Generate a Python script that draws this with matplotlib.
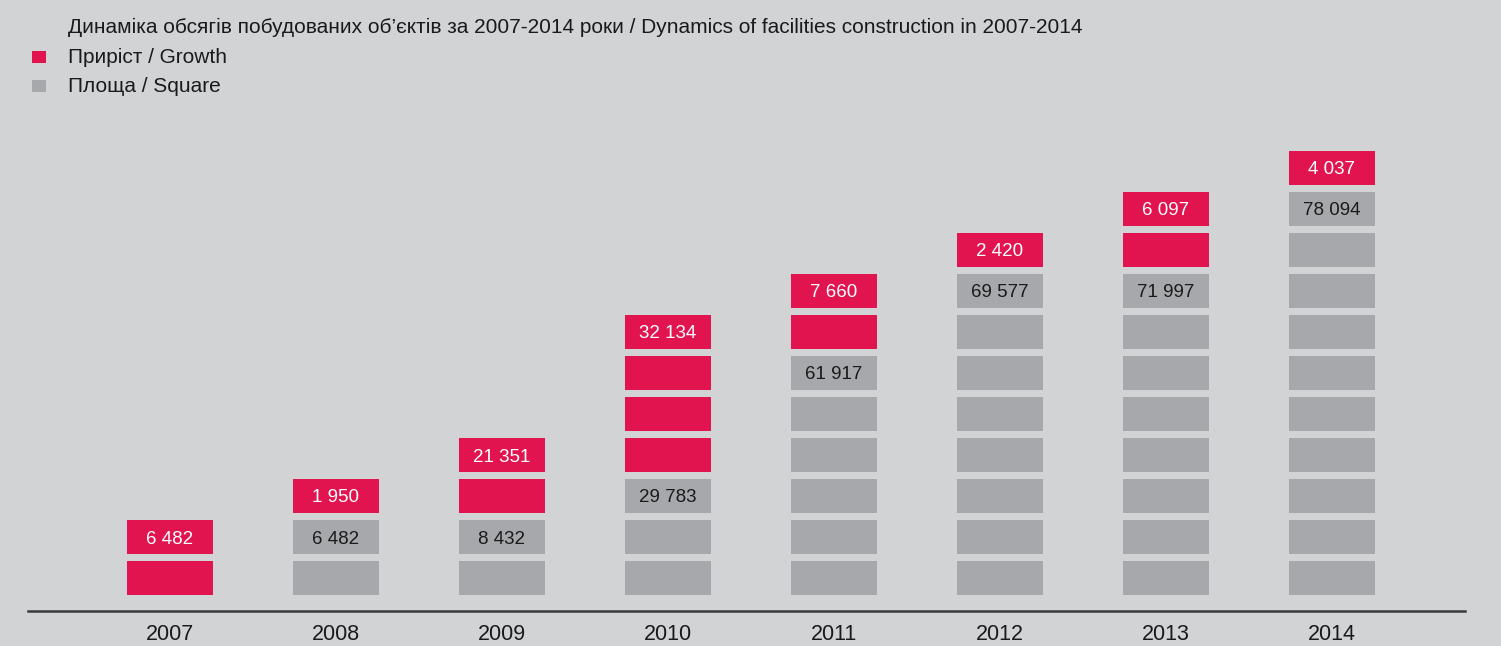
import numpy as np
import matplotlib.pyplot as plt
from matplotlib import font_manager

years = ['2007', '2008', '2009', '2010', '2011', '2012', '2013', '2014']
square_blocks = [0, 2, 2, 3, 6, 8, 8, 10]   # кількість сірих блоків
growth_blocks = [2, 1, 2, 4, 2, 1, 2, 1]    # кількість рожевих блоків
square_labels = ['', '6 482', '8 432', '29 783', '61 917', '69 577', '71 997', '78 094']
growth_labels = ['6 482', '1 950', '21 351', '32 134', '7 660', '2 420', '6 097', '4 037']

title = 'Динаміка обсягів побудованих об’єктів за 2007-2014 роки / Dynamics of facilities construction in 2007-2014'
legend_items = ['Приріст / Growth', 'Площа / Square']

PINK = '#e1144f'
GREY = '#a7a8ab'
BG = '#d2d3d5'

names = {f.name for f in font_manager.fontManager.ttflist}
fam = 'Liberation Sans Narrow' if 'Liberation Sans Narrow' in names else 'Liberation Sans'
plt.rcParams['font.family'] = [fam, 'DejaVu Sans']

W, H = 1501, 646
fig = plt.figure(figsize=(W / 100, H / 100), dpi=100, facecolor=BG)

# оси в пикселях: низ на 611, верх на 100
ax = fig.add_axes([28 / W, (H - 611) / H, (1465 - 28) / W, (611 - 100) / H])
ax.set_facecolor(BG)
x0 = (28 - 170) / 166
x1 = (1465 - 170) / 166
ax.set_xlim(x0, x1)
ax.set_ylim(0, (611 - 100) / 41)

bw = 86 / 166
bh = 34 / 41
off = 16 / 41

for i in range(len(years)):
    k = 0
    for j in range(square_blocks[i]):
        ax.bar(i, bh, bw, bottom=off + k, color=GREY, linewidth=0)
        k += 1
    if square_blocks[i]:
        ax.text(i, off + k - 1 + bh / 2, square_labels[i], ha='center', va='center_baseline',
                fontsize=13.5, color='#1a1a1a')
    for j in range(growth_blocks[i]):
        ax.bar(i, bh, bw, bottom=off + k, color=PINK, linewidth=0)
        k += 1
    ax.text(i, off + k - 1 + bh / 2, growth_labels[i], ha='center', va='center_baseline',
            fontsize=13.5, color='white')

for s in ['top', 'right', 'left']:
    ax.spines[s].set_visible(False)
ax.spines['bottom'].set_color('#3a3a3a')
ax.spines['bottom'].set_linewidth(1.8)
ax.set_yticks([])
ax.set_xticks(range(len(years)))
ax.set_xticklabels(years, fontsize=15.5, color='#1a1a1a')
ax.tick_params(axis='x', length=0, pad=9)

fig.text(68 / W, 1 - 27 / H, title, fontsize=15, va='center', ha='left', color='#1a1a1a')
for n, (lab, c) in enumerate(zip(legend_items, [PINK, GREY])):
    yy = 57 + 29 * n
    fig.patches.append(plt.Rectangle((32 / W, 1 - (yy + 6) / H), 14 / W, 12 / H,
                                     transform=fig.transFigure, color=c, linewidth=0))
    fig.text(68 / W, 1 - yy / H, lab, fontsize=15, va='center', ha='left', color='#1a1a1a')

fig.savefig('out.png', dpi=100, facecolor=BG)
